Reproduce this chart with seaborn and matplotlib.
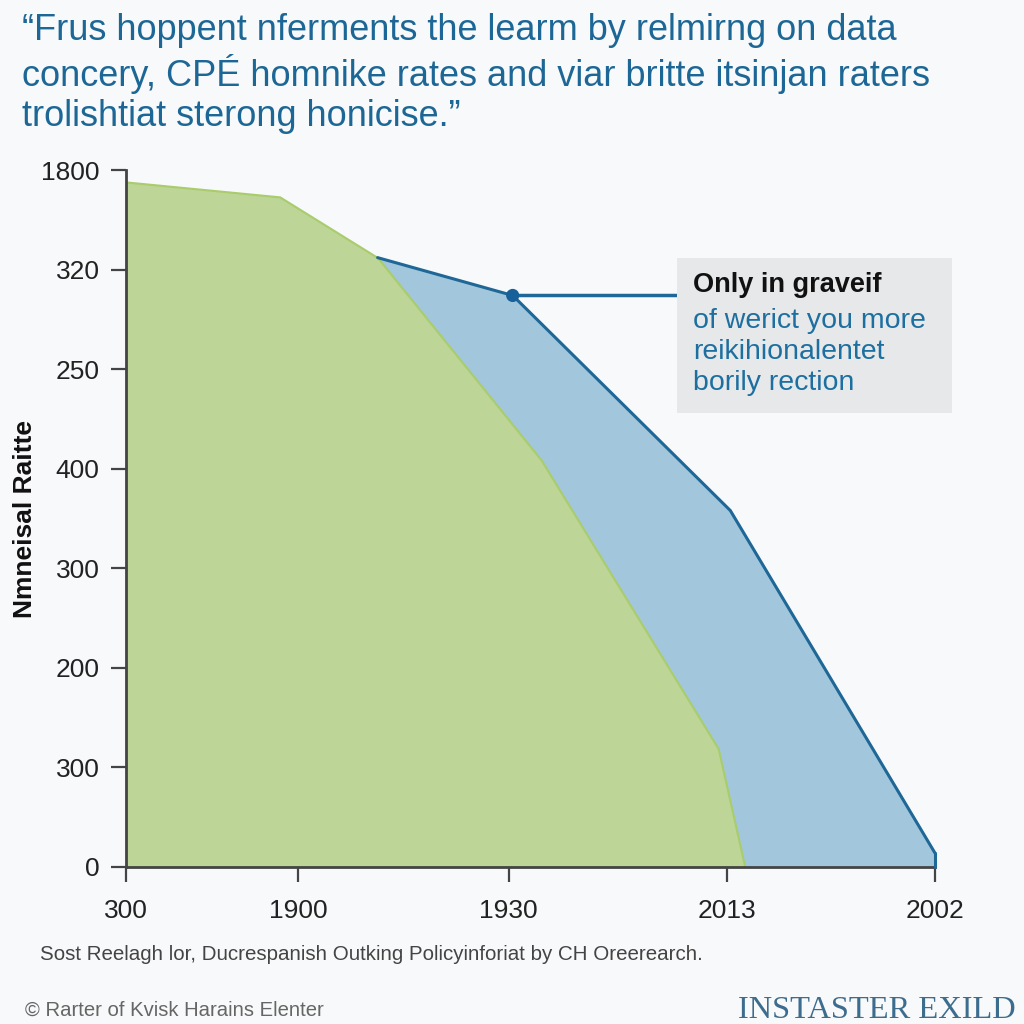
import matplotlib
matplotlib.use("Agg")
import matplotlib.pyplot as plt
import seaborn as sns
import pandas as pd
from matplotlib.patches import Rectangle

# ---- data ----
green_x = [0.0, 19.0, 31.1, 51.3, 73.2, 76.5]
green_y = [6.88, 6.73, 6.12, 4.09, 1.19, 0.0]
blue_x = [31.1, 47.8, 74.7, 100.0]
blue_y = [6.12, 5.74, 3.58, 0.14]
marker_x = [47.8]
marker_y = [5.74]
ytick_pos = [0, 1, 2, 3, 4, 5, 6, 7]
ytick_labels = ["0", "300", "200", "300", "400", "250", "320", "1800"]
xtick_pos = [0, 21.3, 47.3, 74.3, 100]
xtick_labels = ["300", "1900", "1930", "2013", "2002"]

title_lines = [
    "\u201cFrus hoppent nferments the learm by relmirng \u03bfn data",
    "concery, CP\u00c9 homnike rates and viar britte itsinjan raters",
    "trolishtiat sterong honicise.\u201d",
]
ylabel = "Nmneisal Raitte"
note_title = "Only in graveif"
note_body = ["of werict you more", "reikihionalentet", "borily rection"]
footnote = "Sost Reelagh lor, Ducrespanish Outking Policyinforiat by CH Oreerearch."
credit = "\u00a9 Rarter of Kvisk Harains Elenter"
brand = "INSTASTER EXILD"

# ---- style ----
sns.set_theme(style="white")
BG = "#f8f9fa"
plt.rcParams["font.family"] = ["Liberation Sans", "DejaVu Sans"]

fig = plt.figure(figsize=(10.24, 10.24), dpi=100, facecolor=BG)
ax = fig.add_axes([126/1024, 1-867/1024, (935-126)/1024, (867-170)/1024])
ax.set_facecolor(BG)

blue_df = pd.DataFrame({"x": blue_x, "y": blue_y})

# blue area (behind), green area on top
ax.fill_between(blue_x + [100.0], blue_y + [0.0], 0, color="#a2c7dc", lw=0, zorder=1)
ax.fill_between(green_x, green_y, 0, color="#bdd596", edgecolor="#a9cc6c", lw=1.5, zorder=2)
sns.lineplot(data=blue_df, x="x", y="y", ax=ax, color="#1f6797", lw=2.2, zorder=3,
             clip_on=False)
ax.plot([blue_x[-1], blue_x[-1]], [blue_y[-1], 0], color="#1f6797", lw=2.2, zorder=3, clip_on=False)

# annotation connector
ax.plot([marker_x[0], 68.1], [marker_y[0], marker_y[0]], color="#1f6797", lw=2.5, zorder=4,
        clip_on=False)
sns.scatterplot(x=marker_x, y=marker_y, ax=ax, color="#17609a", s=90, zorder=5,
                edgecolor="none")

ax.set_xlim(0, 100)
ax.set_ylim(0, 7)
ax.set_yticks(ytick_pos)
ax.set_yticklabels(ytick_labels, fontsize=19, color="#222222")
ax.set_xticks(xtick_pos)
ax.set_xticklabels(xtick_labels, fontsize=19, color="#222222")
ax.tick_params(axis="both", direction="out", length=11, width=1.6, color="#444444",
               left=True, bottom=True, pad=8)
ax.tick_params(axis="x", pad=12)
for s in ["top", "right"]:
    ax.spines[s].set_visible(False)
for s in ["left", "bottom"]:
    ax.spines[s].set_color("#444444")
    ax.spines[s].set_linewidth(2)
ax.set_xlabel("")
ax.set_ylabel("")

# y label
fig.text(25/1024, 1-519/1024, ylabel, rotation=90, ha="center", va="center",
         fontsize=19, fontweight="bold", color="#111111")

# title
for i, line in enumerate(title_lines):
    fig.text(22/1024, 1-(31+43*i)/1024, line, ha="left", va="center", fontsize=26,
             color="#1d6796")

# annotation box
fig.patches.append(Rectangle((677/1024, 1-413/1024), (952-677)/1024, (413-258)/1024,
                             transform=fig.transFigure, facecolor="#e6e8ea",
                             edgecolor="none", zorder=0))
fig.text(693/1024, 1-285/1024, note_title, ha="left", va="center", fontsize=19.5,
         color="#111111", fontweight="bold")
for i, line in enumerate(note_body):
    fig.text(693/1024, 1-(321+31*i)/1024, line, ha="left", va="center", fontsize=20.5,
             color="#1d6fa0")

# footer
fig.text(40/1024, 1-955/1024, footnote, ha="left", va="center", fontsize=14.8,
         color="#444444")
fig.text(25/1024, 1-1010/1024, credit, ha="left", va="center", fontsize=14.6,
         color="#666666")
fig.text(1016/1024, 1-1011/1024, brand, ha="right", va="center", fontsize=23.4,
         color="#3d6d8e", family=["Liberation Serif", "DejaVu Serif"])

fig.savefig("out.png", dpi=100, facecolor=BG)
